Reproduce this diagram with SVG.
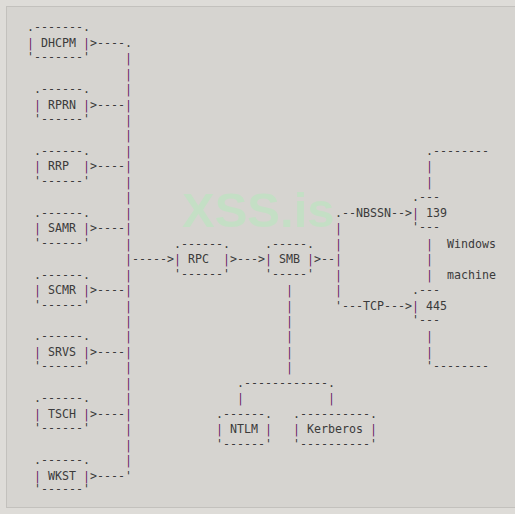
<svg xmlns="http://www.w3.org/2000/svg" width="515" height="514" viewBox="0 0 515 514">
<style>
text{font-family:"DejaVu Sans Mono","Liberation Mono",monospace;font-size:11.63px;fill:#3b3b3b;white-space:pre}
.p{fill:#6a2466}
.wm{font-family:"Liberation Sans",Arial,sans-serif;font-weight:bold;font-size:49px;fill:#c4dfc5}
</style>
<rect x="0" y="0" width="515" height="514" fill="#dedcd8"/>
<rect x="6.5" y="6.5" width="515" height="501" fill="#d6d4d0" stroke="#c3c1bd"/>
<text class="wm" x="182" y="227">XSS.is</text>

<g id="connectors">
<text x="90" y="46.7">&gt;----.</text>
<text x="90" y="108.54">&gt;----</text>
<text x="90" y="170.38">&gt;----</text>
<text x="90" y="232.22">&gt;----</text>
<text x="90" y="294.06">&gt;----</text>
<text x="90" y="355.9">&gt;----</text>
<text x="90" y="417.74">&gt;----</text>
<text x="90" y="479.58">&gt;----'</text>
<text class="p"><tspan x="125" y="62.16">|</tspan><tspan x="125" y="77.62">|</tspan><tspan x="125" y="93.08">|</tspan><tspan x="125" y="108.54">|</tspan><tspan x="125" y="124">|</tspan><tspan x="125" y="139.46">|</tspan><tspan x="125" y="154.92">|</tspan><tspan x="125" y="170.38">|</tspan><tspan x="125" y="185.84">|</tspan><tspan x="125" y="201.3">|</tspan><tspan x="125" y="216.76">|</tspan><tspan x="125" y="232.22">|</tspan><tspan x="125" y="247.68">|</tspan><tspan x="125" y="263.14">|</tspan><tspan x="125" y="278.6">|</tspan><tspan x="125" y="294.06">|</tspan><tspan x="125" y="309.52">|</tspan><tspan x="125" y="324.98">|</tspan><tspan x="125" y="340.44">|</tspan><tspan x="125" y="355.9">|</tspan><tspan x="125" y="371.36">|</tspan><tspan x="125" y="386.82">|</tspan><tspan x="125" y="402.28">|</tspan><tspan x="125" y="417.74">|</tspan><tspan x="125" y="433.2">|</tspan><tspan x="125" y="448.66">|</tspan><tspan x="125" y="464.12">|</tspan></text>
<text x="132" y="263.14">-----&gt;</text>
<text x="230" y="263.14">&gt;---&gt;</text>
<text x="314" y="263.14">&gt;--</text>
<text x="335" y="216.76">.--NBSSN--&gt;</text>
<text class="p"><tspan x="335" y="232.22">|</tspan><tspan x="335" y="247.68">|</tspan><tspan x="335" y="263.14">|</tspan><tspan x="335" y="278.6">|</tspan><tspan x="335" y="294.06">|</tspan></text>
<text x="335" y="309.52">'---TCP---&gt;</text>
<text class="p"><tspan x="286" y="294.06">|</tspan><tspan x="286" y="309.52">|</tspan><tspan x="286" y="324.98">|</tspan><tspan x="286" y="340.44">|</tspan><tspan x="286" y="355.9">|</tspan><tspan x="286" y="371.36">|</tspan></text>
<text x="237" y="386.82">.------------.</text>
<text class="p"><tspan x="237" y="402.28">|</tspan><tspan x="328" y="402.28">|</tspan></text>
</g>

<g id="node-dhcpm">
<text x="27" y="31.24">.-------.</text>
<text x="27" y="46.7"><tspan class="p">|</tspan> DHCPM <tspan class="p">|</tspan></text>
<text x="27" y="61.16">'-------'</text>
</g>
<g id="node-rprn">
<text x="34" y="93.08">.------.</text>
<text x="34" y="108.54"><tspan class="p">|</tspan> RPRN <tspan class="p">|</tspan></text>
<text x="34" y="123">'------'</text>
</g>
<g id="node-rrp">
<text x="34" y="154.92">.------.</text>
<text x="34" y="170.38"><tspan class="p">|</tspan> RRP  <tspan class="p">|</tspan></text>
<text x="34" y="184.84">'------'</text>
</g>
<g id="node-samr">
<text x="34" y="216.76">.------.</text>
<text x="34" y="232.22"><tspan class="p">|</tspan> SAMR <tspan class="p">|</tspan></text>
<text x="34" y="246.68">'------'</text>
</g>
<g id="node-scmr">
<text x="34" y="278.6">.------.</text>
<text x="34" y="294.06"><tspan class="p">|</tspan> SCMR <tspan class="p">|</tspan></text>
<text x="34" y="308.52">'------'</text>
</g>
<g id="node-srvs">
<text x="34" y="340.44">.------.</text>
<text x="34" y="355.9"><tspan class="p">|</tspan> SRVS <tspan class="p">|</tspan></text>
<text x="34" y="370.36">'------'</text>
</g>
<g id="node-tsch">
<text x="34" y="402.28">.------.</text>
<text x="34" y="417.74"><tspan class="p">|</tspan> TSCH <tspan class="p">|</tspan></text>
<text x="34" y="432.2">'------'</text>
</g>
<g id="node-wkst">
<text x="34" y="464.12">.------.</text>
<text x="34" y="479.58"><tspan class="p">|</tspan> WKST <tspan class="p">|</tspan></text>
<text x="34" y="493.04">'------'</text>
</g>

<g id="node-rpc">
<text x="174" y="247.68">.------.</text>
<text x="174" y="263.14"><tspan class="p">|</tspan> RPC  <tspan class="p">|</tspan></text>
<text x="174" y="277.6">'------'</text>
</g>
<g id="node-smb">
<text x="265" y="247.68">.-----.</text>
<text x="265" y="263.14"><tspan class="p">|</tspan> SMB <tspan class="p">|</tspan></text>
<text x="265" y="277.6">'-----'</text>
</g>
<g id="node-ntlm">
<text x="216" y="417.74">.------.</text>
<text x="216" y="433.2"><tspan class="p">|</tspan> NTLM <tspan class="p">|</tspan></text>
<text x="216" y="447.66">'------'</text>
</g>
<g id="node-kerberos">
<text x="293" y="417.74">.----------.</text>
<text x="293" y="433.2"><tspan class="p">|</tspan> Kerberos <tspan class="p">|</tspan></text>
<text x="293" y="447.66">'----------'</text>
</g>

<g id="node-windows-machine">
<text x="426" y="154.92">.--------</text>
<text class="p"><tspan x="426" y="170.38">|</tspan><tspan x="426" y="185.84">|</tspan><tspan x="426" y="247.68">|</tspan><tspan x="426" y="263.14">|</tspan><tspan x="426" y="278.6">|</tspan><tspan x="426" y="340.44">|</tspan><tspan x="426" y="355.9">|</tspan></text>
<text x="447" y="247.68">Windows</text>
<text x="447" y="278.6">machine</text>
<text x="426" y="370.36">'--------</text>
</g>
<g id="node-port-139">
<text x="412" y="201.3">.---</text>
<text x="412" y="216.76"><tspan class="p">|</tspan> 139</text>
<text x="412" y="231.22">'---</text>
</g>
<g id="node-port-445">
<text x="412" y="294.06">.---</text>
<text x="412" y="309.52"><tspan class="p">|</tspan> 445</text>
<text x="412" y="323.98">'---</text>
</g>
</svg>
